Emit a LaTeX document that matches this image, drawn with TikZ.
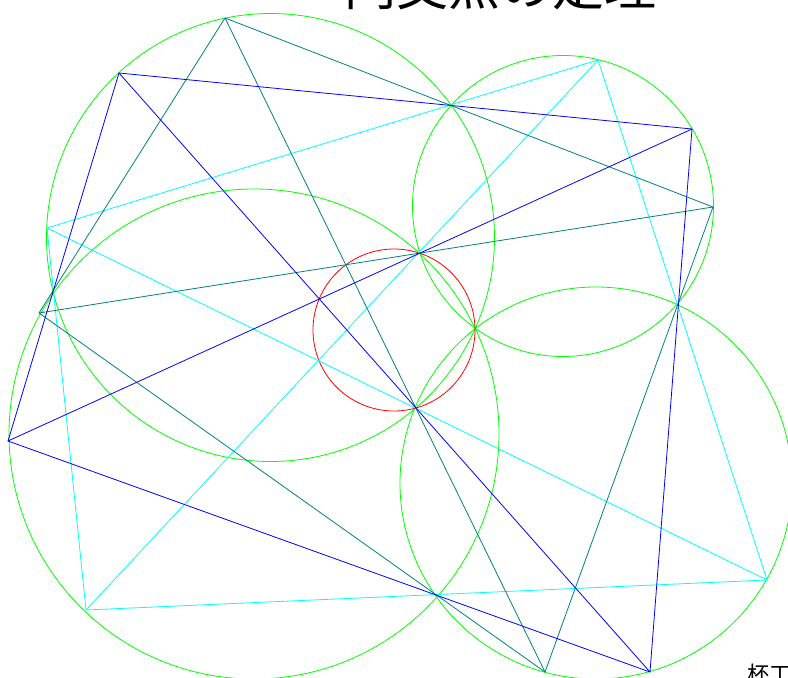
\documentclass[tikz,border=0pt]{standalone}
\usepackage{fontspec}
\newfontfamily\cjk{Noto Sans CJK JP}
\definecolor{gr}{RGB}{0,255,0}
\definecolor{cyn}{RGB}{0,255,255}
\definecolor{tea}{RGB}{0,128,128}
\definecolor{blu}{RGB}{0,0,255}
\definecolor{rd}{RGB}{255,0,0}
\begin{document}
\begin{tikzpicture}[x=1pt,y=-1pt,
  circ/.style={draw=gr, line width=0.8pt},
  redc/.style={draw=rd, line width=0.8pt},
  bl/.style={draw=blu, line width=0.8pt},
  tl/.style={draw=tea, line width=0.8pt},
  cy/.style={draw=cyn, line width=0.8pt}]
\useasboundingbox (0,0) rectangle (788,678);
% points
\coordinate (Q1) at (119,73);
\coordinate (Q2) at (692,129);
\coordinate (Q3) at (650,672);
\coordinate (Q4) at (8,441);
\coordinate (T1) at (225,18);
\coordinate (T2) at (713,207);
\coordinate (T3) at (545,672);
\coordinate (T4) at (39,313);
\coordinate (C1) at (47,228);
\coordinate (C2) at (598,60);
\coordinate (C3) at (767,580);
\coordinate (C4) at (86,610);
% circles
\begin{scope}
\clip (0,0) rectangle (788,678);
\draw[circ] (270.5,237.5) circle[radius=224];
\draw[circ] (563,206) circle[radius=150.5];
\draw[circ] (254,434) circle[radius=245];
\draw[circ] (596,483) circle[radius=196];
\draw[redc] (394,330) circle[radius=81];
\end{scope}
% quadrilaterals
\draw[cy] (C1) -- (C2) -- (C3) -- (C4) -- cycle;
\draw[cy] (C1) -- (C3);
\draw[cy] (C2) -- (C4);
\draw[tl] (T1) -- (T2) -- (T3) -- (T4) -- cycle;
\draw[tl] (T1) -- (T3);
\draw[tl] (T2) -- (T4);
\draw[bl] (Q1) -- (Q2) -- (Q3) -- (Q4) -- cycle;
\draw[bl] (Q1) -- (Q3);
\draw[bl] (Q2) -- (Q4);
% texts
\node[anchor=base, inner sep=0pt, font=\cjk\fontsize{52}{52}\selectfont] (title) at (500,5) {円交点の定理};
\node[anchor=base west, inner sep=0pt, font=\cjk\fontsize{22}{22}\selectfont] (note) at (747,682) {杯工};
\end{tikzpicture}
\end{document}
